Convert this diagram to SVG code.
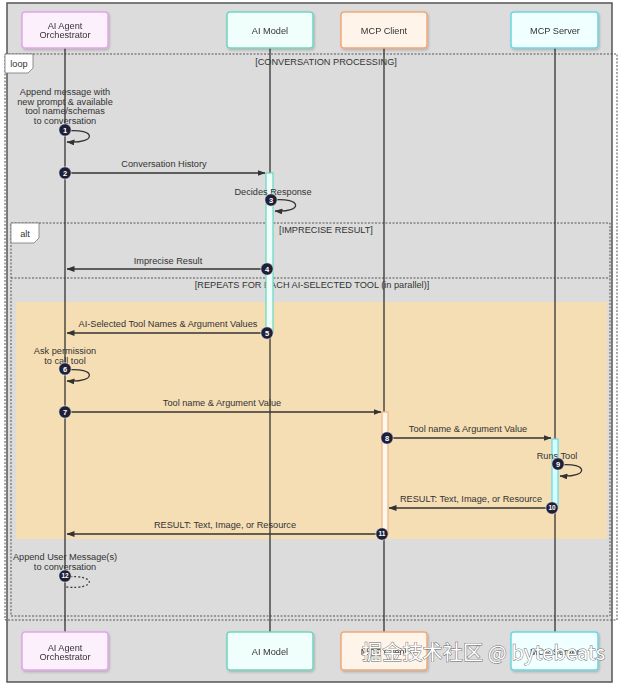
<svg xmlns="http://www.w3.org/2000/svg" width="624" height="684" viewBox="0 0 624 684">
<style>
text{font-family:"Liberation Sans",Arial,sans-serif;fill:#333;font-size:9.2px}
.c{text-anchor:middle}
.life{stroke:#333;stroke-width:1.3}
.msg{stroke:#333;stroke-width:1.3;fill:none}
.dot{stroke:#555;stroke-width:1;stroke-dasharray:2,1.5;fill:none}
.num{fill:#1f1f38;stroke:#fff;stroke-width:0.6}
.nt{fill:#fff;font-size:7.5px;font-weight:bold;text-anchor:middle}
.nt2{fill:#fff;font-size:6.5px;font-weight:bold;text-anchor:middle}
.lbl{fill:#fff;stroke:#777;stroke-width:0.8}
.wm{font-family:"Noto Sans CJK SC","Liberation Sans",sans-serif;font-size:20px;fill:#fff;stroke:#666;stroke-width:0.9;paint-order:stroke}
</style>
<defs>
<marker id="ah" markerWidth="8" markerHeight="6" refX="7.5" refY="3" orient="auto" markerUnits="userSpaceOnUse">
<path d="M0,0 L8,3 L0,6 z" fill="#333"/>
</marker>
<filter id="sh" x="-10%" y="-10%" width="130%" height="140%"><feDropShadow dx="1" dy="1.5" stdDeviation="1" flood-color="#000" flood-opacity="0.2"/></filter>
</defs>

<rect x="0" y="0" width="624" height="684" fill="#fff"/>
<rect x="7" y="3" width="605" height="679" fill="#dcdcdc" stroke="#555" stroke-width="1.5"/>

<!-- frames -->
<g id="frames">
<rect x="16" y="302" width="591" height="237" fill="#f5deb3"/>
<rect x="5" y="54" width="612" height="566" class="dot"/>
<path d="M5,54 H33 V68 L28,73 H5 Z" class="lbl"/>
<text x="19" y="67" class="c">loop</text>
<text x="326" y="65" class="c">[CONVERSATION PROCESSING]</text>
<rect x="11" y="223" width="599" height="393" class="dot"/>
<path d="M11,223 H39 V238 L34,243 H11 Z" class="lbl"/>
<text x="25" y="237" class="c">alt</text>
<text x="326" y="233" class="c">[IMPRECISE RESULT]</text>
<line x1="11" y1="278" x2="610" y2="278" class="dot"/>
<text x="312" y="288" class="c">[REPEATS FOR EACH AI-SELECTED TOOL (in parallel)]</text>
</g>

<!-- lifelines -->
<g id="lifelines">
<line x1="65" y1="48" x2="65" y2="632" class="life"/>
<line x1="270" y1="48" x2="270" y2="632" class="life"/>
<line x1="384" y1="48" x2="384" y2="632" class="life"/>
<line x1="555" y1="48" x2="555" y2="632" class="life"/>
</g>

<!-- activations -->
<g id="activations">
<rect x="266" y="173" width="7" height="160" fill="#eefffa" stroke="#66d9c2" stroke-width="1.2"/>
<rect x="382" y="412" width="6" height="122" fill="#fff8ef" stroke="#f4b183" stroke-width="1.2"/>
<rect x="552" y="439" width="6" height="69" fill="#d6ffff" stroke="#66d9e8" stroke-width="1.2"/>
</g>

<!-- actors -->
<g id="orchestrator-top" filter="url(#sh)">
<rect x="22" y="12" width="86" height="36" rx="3" fill="#fdf0fd" stroke="#e6a3ec" stroke-width="1.5"/>
<text x="65" y="29" class="c">AI Agent</text><text x="65" y="38" class="c">Orchestrator</text>
</g>
<g id="model-top" filter="url(#sh)">
<rect x="227" y="12" width="86" height="36" rx="3" fill="#f0fffb" stroke="#6fd8c0" stroke-width="1.5"/>
<text x="270" y="34" class="c">AI Model</text>
</g>
<g id="client-top" filter="url(#sh)">
<rect x="341" y="12" width="86" height="36" rx="3" fill="#fff4ea" stroke="#f2a877" stroke-width="1.5"/>
<text x="384" y="34" class="c">MCP Client</text>
</g>
<g id="server-top" filter="url(#sh)">
<rect x="511" y="12" width="87" height="36" rx="3" fill="#f0ffff" stroke="#6ad8e2" stroke-width="1.5"/>
<text x="555" y="34" class="c">MCP Server</text>
</g>
<g id="orchestrator-bottom" filter="url(#sh)">
<rect x="22" y="632" width="86" height="38" rx="3" fill="#fdf0fd" stroke="#e6a3ec" stroke-width="1.5"/>
<text x="65" y="651" class="c">AI Agent</text><text x="65" y="660" class="c">Orchestrator</text>
</g>
<g id="model-bottom" filter="url(#sh)">
<rect x="227" y="632" width="86" height="38" rx="3" fill="#f0fffb" stroke="#6fd8c0" stroke-width="1.5"/>
<text x="270" y="655" class="c">AI Model</text>
</g>
<g id="client-bottom" filter="url(#sh)">
<rect x="341" y="632" width="86" height="38" rx="3" fill="#fff4ea" stroke="#f2a877" stroke-width="1.5"/>
<text x="384" y="655" class="c">MCP Client</text>
</g>
<g id="server-bottom" filter="url(#sh)">
<rect x="511" y="632" width="87" height="38" rx="3" fill="#f0ffff" stroke="#6ad8e2" stroke-width="1.5"/>
<text x="555" y="655" class="c">MCP Server</text>
</g>

<!-- connectors -->
<g id="connectors">
<path d="M66,131 C97,128 97,144 67,142" class="msg" marker-end="url(#ah)"/>
<line x1="65" y1="173" x2="265" y2="173" class="msg" marker-end="url(#ah)"/>
<path d="M272,200 C303,197 303,213 275,211" class="msg" marker-end="url(#ah)"/>
<line x1="266" y1="269" x2="67" y2="269" class="msg" marker-end="url(#ah)"/>
<line x1="266" y1="333" x2="67" y2="333" class="msg" marker-end="url(#ah)"/>
<path d="M66,370 C97,367 97,383 67,381" class="msg" marker-end="url(#ah)"/>
<line x1="65" y1="412" x2="381" y2="412" class="msg" marker-end="url(#ah)"/>
<line x1="387" y1="438" x2="551" y2="438" class="msg" marker-end="url(#ah)"/>
<path d="M559,465 C589,462 589,478 560,476" class="msg" marker-end="url(#ah)"/>
<line x1="552" y1="508" x2="389" y2="508" class="msg" marker-end="url(#ah)"/>
<line x1="382" y1="534" x2="67" y2="534" class="msg" marker-end="url(#ah)"/>
<path d="M66,577 C97,574 97,590 66,587" fill="none" stroke="#333" stroke-width="1.2" stroke-dasharray="2,2"/>
</g>

<!-- message labels -->
<g id="labels">
<text x="65" y="95" class="c">Append message with</text>
<text x="65" y="105" class="c">new prompt &amp; available</text>
<text x="65" y="114" class="c">tool name/schemas</text>
<text x="65" y="124" class="c">to conversation</text>
<text x="164" y="167" class="c">Conversation History</text>
<text x="273" y="195" class="c">Decides Response</text>
<text x="168" y="264" class="c">Imprecise Result</text>
<text x="168" y="327" class="c">AI-Selected Tool Names &amp; Argument Values</text>
<text x="65" y="354" class="c">Ask permission</text>
<text x="65" y="364" class="c">to call tool</text>
<text x="222" y="406" class="c">Tool name &amp; Argument Value</text>
<text x="468" y="432" class="c">Tool name &amp; Argument Value</text>
<text x="557" y="459" class="c">Runs Tool</text>
<text x="471" y="502" class="c">RESULT: Text, Image, or Resource</text>
<text x="225" y="528" class="c">RESULT: Text, Image, or Resource</text>
<text x="65" y="560" class="c">Append User Message(s)</text>
<text x="65" y="570" class="c">to conversation</text>
</g>

<!-- sequence numbers -->
<g id="numbers">
<circle cx="65" cy="130" r="6.2" class="num"/><text x="65" y="132.7" class="nt">1</text>
<circle cx="65" cy="173" r="6.2" class="num"/><text x="65" y="175.7" class="nt">2</text>
<circle cx="271" cy="200" r="6.2" class="num"/><text x="271" y="202.7" class="nt">3</text>
<circle cx="267" cy="269" r="6.2" class="num"/><text x="267" y="271.7" class="nt">4</text>
<circle cx="267" cy="333" r="6.2" class="num"/><text x="267" y="335.7" class="nt">5</text>
<circle cx="65" cy="369" r="6.2" class="num"/><text x="65" y="371.7" class="nt">6</text>
<circle cx="65" cy="412" r="6.2" class="num"/><text x="65" y="414.7" class="nt">7</text>
<circle cx="387" cy="438" r="6.2" class="num"/><text x="387" y="440.7" class="nt">8</text>
<circle cx="558" cy="464" r="6.2" class="num"/><text x="558" y="466.7" class="nt">9</text>
<circle cx="552" cy="508" r="6.2" class="num"/><text x="552" y="510.4" class="nt2">10</text>
<circle cx="382" cy="534" r="6.2" class="num"/><text x="382" y="536.4" class="nt2">11</text>
<circle cx="65" cy="576" r="6.2" class="num"/><text x="65" y="578.4" class="nt2">12</text>
</g>

<text x="362" y="660" class="wm" textLength="243">掘金技术社区 @ bytebeats</text>
</svg>
